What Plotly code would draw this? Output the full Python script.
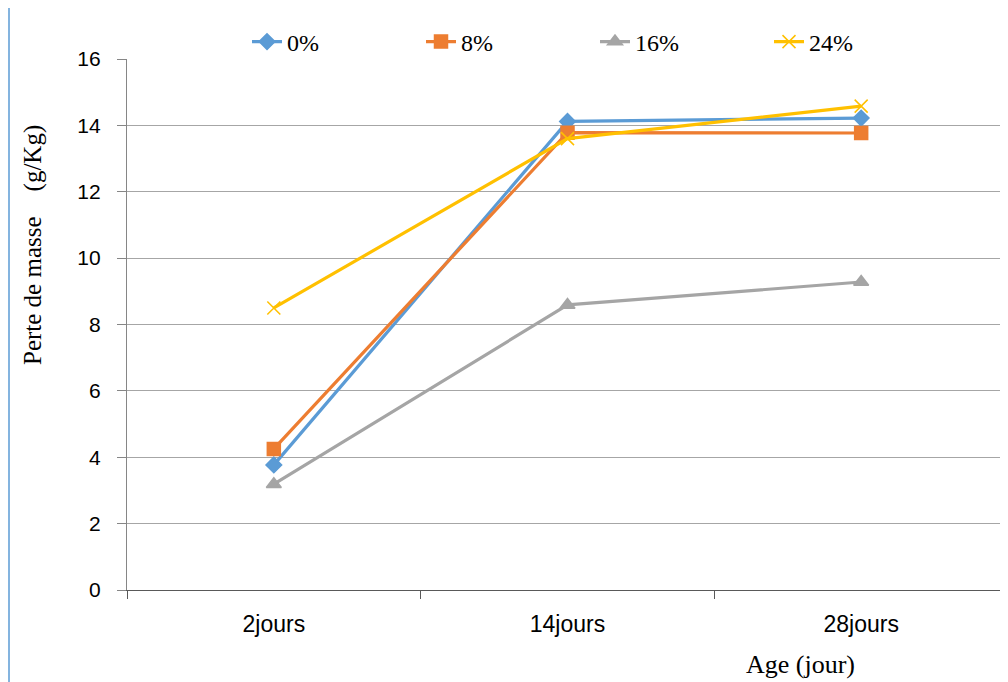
import plotly.graph_objects as go

categories = ["2jours", "14jours", "28jours"]
s0 = [3.77, 14.12, 14.22]
s8 = [4.25, 13.78, 13.77]
s16 = [3.19, 8.59, 9.28]
s24 = [8.5, 13.6, 14.58]
names = ["0%", "8%", "16%", "24%"]
colors = ["#5B9BD5", "#ED7D31", "#A5A5A5", "#FFC000"]
symbols = ["diamond", "square", "triangle-up", "x-thin-open"]
sizes = [12, 13, 13, 13]
yticks = [0, 2, 4, 6, 8, 10, 12, 14, 16]

SERIF = "Liberation Serif, Times New Roman, serif"

fig = go.Figure()
for name, vals, c, s, sz in zip(names, [s0, s8, s16, s24], colors, symbols, sizes):
    fig.add_trace(go.Scatter(
        x=categories, y=vals, name=name, mode="lines+markers",
        line=dict(color=c, width=3.2),
        marker=dict(symbol=s, size=sz, color=c, line=dict(color=c, width=1.5)),
    ))

# page is shown with an 8px body offset
L, R, T, B = 119, 8, 51, 100
W, H = 1008, 682
pw = W - L - R
ph = H - T - B
base = T + ph  # figure pixel of y=0


def px(xf):
    return (xf - L) / pw


def py(yf):
    return (base - yf) / ph


fig.update_layout(
    width=W, height=H,
    margin=dict(l=L, r=R, t=T, b=B, autoexpand=False),
    plot_bgcolor="white", paper_bgcolor="white",
    font=dict(family="Liberation Sans", size=21, color="#000000"),
    showlegend=True,
    legend=dict(
        orientation="h", x=px(239), y=py(34),
        xanchor="left", yanchor="middle",
        font=dict(family=SERIF, size=24, color="#000000"),
        entrywidth=129, entrywidthmode="pixels",
        bgcolor="rgba(0,0,0,0)",
    ),
    xaxis=dict(
        type="category", range=[-0.5, 2.5],
        showline=True, linecolor="#595959", linewidth=1.3,
        ticks="outside", tickson="boundaries", ticklen=8, tickcolor="#595959",
        showgrid=False, ticklabelstandoff=13,
        tickfont=dict(family="Liberation Sans", size=23),
    ),
    yaxis=dict(
        range=[0, 16], tickvals=yticks,
        showline=True, linecolor="#868686", linewidth=1.3,
        ticks="outside", ticklen=9, tickcolor="#868686",
        showgrid=True, gridcolor="#A6A6A6", gridwidth=1,
        zeroline=False, ticklabelstandoff=12,
        tickfont=dict(family="Liberation Sans", size=21),
    ),
    annotations=[
        dict(text="Perte de masse\u00a0\u00a0\u00a0\u00a0(g/Kg)", xref="paper", yref="paper",
             x=px(25), y=py(237), xanchor="center", yanchor="middle",
             textangle=-90, showarrow=False,
             font=dict(family=SERIF, size=25, color="#000000")),
        dict(text="Age (jour)", xref="paper", yref="paper",
             x=px(792), y=py(656), xanchor="center", yanchor="middle",
             showarrow=False,
             font=dict(family=SERIF, size=26, color="#000000")),
    ],
    shapes=[
        dict(type="line", xref="paper", yref="paper",
             x0=px(1), x1=px(1), y0=py(0), y1=py(H),
             line=dict(color="#5B9BD5", width=1.5)),
    ],
)

fig.write_html("out.html")
